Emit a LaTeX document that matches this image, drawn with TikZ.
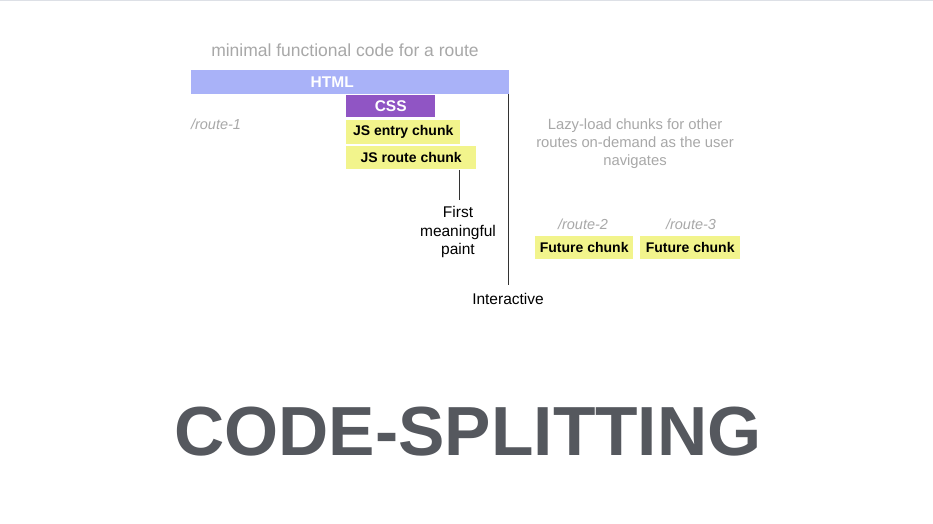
\documentclass[tikz,border=0pt]{standalone}
\usepackage{fontspec}
\setmainfont{Liberation Sans}
\usetikzlibrary{positioning}
\definecolor{htmlblue}{HTML}{A9B2F8}
\definecolor{csspurple}{HTML}{9055C4}
\definecolor{chunkyellow}{HTML}{F2F48C}
\definecolor{softgray}{HTML}{A8A8A8}
\definecolor{titlegray}{HTML}{55585E}
\definecolor{rulegray}{HTML}{DDE0E6}
\tikzset{
  bar/.style={draw=none, inner sep=0pt, anchor=north west, font=\bfseries\fontsize{14}{16}\selectfont},
  chunk/.style={bar, fill=chunkyellow, text=black},
  note/.style={text=softgray, font=\fontsize{14.8}{18}\selectfont, align=center, inner sep=0pt},
  route/.style={text=softgray, font=\itshape\fontsize{14.5}{18}\selectfont, inner sep=0pt},
  milestone/.style={text=black, font=\fontsize{15.5}{18.5}\selectfont, align=center, inner sep=0pt},
  tick/.style={black!80, line width=0.8pt}
}
\begin{document}
\begin{tikzpicture}[x=1pt,y=-1pt]
\useasboundingbox (0,0) rectangle (933,523);
\fill[white] (0,0) rectangle (933,523);
\draw[rulegray, line width=1.2pt] (0,0.6) -- (933,0.6);

% timeline for the first route
\node[note, font=\fontsize{17.5}{20}\selectfont] (caption) at (345,50) {minimal functional code for a route};
\node[bar, fill=htmlblue, text=white, minimum width=318pt, minimum height=24pt,
      font=\bfseries\fontsize{15.5}{17}\selectfont] (html) at (191,70) {\hspace*{-36pt}HTML};
\node[bar, fill=csspurple, text=white, minimum width=89pt, minimum height=22pt,
      font=\bfseries\fontsize{15.5}{17}\selectfont] (css) at (346,95) {CSS};
\node[chunk, minimum width=114pt, minimum height=24pt] (entry) at (346,120) {JS entry chunk};
\node[chunk, minimum width=130pt, minimum height=23pt] (routechunk) at (346,146) {JS route chunk};
\node[route] (r1) at (216,124) {/route-1};

% milestones
\coordinate (fmptop) at (459,170);
\node[milestone] (fmp) at (458,232) {First\\meaningful\\paint};
\draw[tick] (fmptop) -- (fmptop |- 0,200);
\coordinate (inttop) at (508.5,94);
\node[milestone] (interactive) at (508,299) {Interactive};
\draw[tick] (inttop) -- (inttop |- 0,285);

% chunks loaded later
\node[note] (lazy) at (635,144) {Lazy-load chunks for other\\routes on-demand as the user\\navigates};
\node[route] (r2) at (583,224) {/route-2};
\node[route] (r3) at (691,224) {/route-3};
\node[chunk, minimum width=98pt, minimum height=23pt] (future2) at (535,236) {Future chunk};
\node[chunk, minimum width=100pt, minimum height=23pt] (future3) at (640,236) {Future chunk};

% title
\node[text=titlegray, inner sep=0pt] (title) at (468,432)
  {\resizebox{587pt}{!}{\bfseries CODE-SPLITTING}};
\end{tikzpicture}
\end{document}
